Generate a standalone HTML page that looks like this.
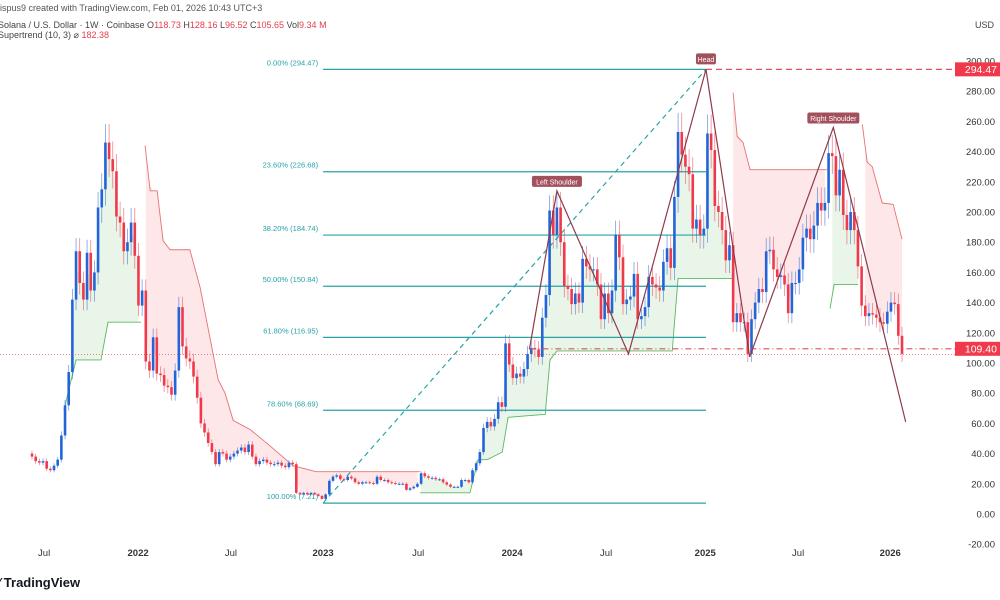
<!DOCTYPE html>
<html><head><meta charset="utf-8"><style>
html,body{margin:0;padding:0;background:#fff;width:1000px;height:600px;overflow:hidden;font-family:"Liberation Sans",sans-serif}
svg{display:block}
</style></head><body>
<svg id="chart" width="1000" height="600" viewBox="0 0 1000 600">
<g font-size="9" fill="#444">
<text x="-3" y="11" fill="#555">rispus9 created with TradingView.com, Feb 01, 2026 10:43 UTC+3</text>
<text x="-2" y="28">Solana / U.S. Dollar · 1W · Coinbase  O<tspan fill="#e0404f">118.73</tspan>  H<tspan fill="#e0404f">128.16</tspan>  L<tspan fill="#e0404f">96.52</tspan>  C<tspan fill="#e0404f">105.65</tspan>  Vol<tspan fill="#e0404f">9.34 M</tspan></text>
<text x="-2" y="38">Supertrend (10, 3)  ⌀  <tspan fill="#e0404f">182.38</tspan></text>
<text x="975" y="28">USD</text>
</g>
<g id="st"></g>
<g id="fib"></g>
<g id="candles"></g>
<g id="pattern"></g>
<g id="yaxis" font-size="9.5" fill="#333"></g>
<g id="xaxis" font-size="9.5" fill="#333"></g>
<g>
<text x="-2" y="587" font-size="13" font-weight="bold" fill="#131722">⁄ TradingView</text>
</g>
</svg>
<script>
const closes = [38,35,34,35,30,29,32,36,52,72,94,142,174,153,142,173,148,160,203,215,246,235,227,197,193,174,180,193,171,138,148,101,95,117,93,92,85,84,79,95,137,111,103,101,91,77,60,54,47,41,33,41,40,36,38,40,42,44,41,46,38,33,35,36,34,33,33,34,32,31,34,33,14,13,14,13,14,13,12,10,13,22,
24.7,25.6,23,22.5,24.7,23.5,21,20,21,21,20.5,20,24.7,22.5,22.5,21,20.5,20,20,20,16,17,18,20,27,25,24,24,23,23,21,19.5,18,18,18,22.5,22.5,21,29,33.6,41,57,61,58,63,74,71,113,99,90,93,91,96,106,110,109,104,130,145,201,185,203,180,151,149,139,146,140,169,164,162,162,152,129,146,133,148,185,170,139,142,144,159,129,131,137,157,152,150,148,167,176,163,210,253,238,230,225,189,195,185,189,
252,241,204,200,188,168,178,127,133,127,127,106,129,140,149,147,174,175,162,157,158,152,133,153,153,162,183,189,182,191,206,201,206,239,237,211,228,198,188,200,188,164,138,131,133,132,130,127,126,134,140,139,118,106];
const firstOpen = 40;
const stGreen1 = [[8.7,69],[12,102],[18.8,102],[20.7,127],[29.7,127]];
const stRed1 = [[30.8,244],[32.2,214],[34.1,214],[35.7,181],[37.6,175],[43,175],[45.8,150],[50.7,89],[52.6,80],[54.8,62],[59.4,56],[64.9,45],[71.1,32],[77.4,28],[105.7,28]];
const stGreen2 = [[105.7,14],[119.3,14],[121.5,36],[124,36],[128.1,41],[129.7,64],[139.8,66],[141.1,102],[143,108],[174.4,108],[176,156],[191,156]];
const stRed2 = [[191,279],[192.1,250],[193.7,246],[195.6,228],[216.6,228]];
const stGreen3 = [[217.4,136],[218.5,152],[225,152]];
const stRed3 = [[226.2,258],[227.5,233],[228.9,230],[231.6,206],[234.6,205],[237,182]];
const fibLevels = [0,23.6,38.2,50,61.8,78.6,100];
const fibPrices = [294.47,226.68,184.74,150.84,116.95,68.69,7.21];
const fibLabels = ["0.00% (294.47)","23.60% (226.68)","38.20% (184.74)","50.00% (150.84)","61.80% (116.95)","78.60% (68.69)","100.00% (7.21)"];
const patternPts = [[135.5,109],[143,214],[162.5,106],[183.6,294.47],[195.5,104],[218.3,256],[238,61]];
const yTicks = [300,280,260,240,220,200,180,160,140,120,100,80,60,40,20,0,-20];
const xTickLabels = ["Jul","2022","Jul","2023","Jul","2024","Jul","2025","Jul","2026"];
const xTickIdx = [3.3,28.9,54.2,79.3,105.2,130.8,156.4,183.4,208.7,233.8];

const NS="http://www.w3.org/2000/svg";
const N=closes.length;
const y=v=>514-1.51*v;
const x=i=>32+i*(870/237);
function mk(tag,attrs,parent){const e=document.createElementNS(NS,tag);for(const k in attrs)e.setAttribute(k,attrs[k]);parent.appendChild(e);return e;}
const BLUE="#2364d8",RED="#f03a4b";

// supertrend
const stG=document.getElementById('st');
function stVal(pts,i){for(let k=0;k<pts.length-1;k++){const a=pts[k],b=pts[k+1];if(i>=a[0]&&i<=b[0])return a[1]+(b[1]-a[1])*(i-a[0])/(b[0]-a[0]);}return null;}
function drawST(pts,up,name){
  const i0=Math.ceil(pts[0][0]),i1=Math.floor(pts[pts.length-1][0]);
  let top=[],bot=[];
  for(let i=i0;i<=i1;i++){const v=stVal(pts,i);if(v===null)continue;const o=i>0?closes[i-1]:firstOpen;const m=(o+closes[i])/2;top.push(x(i)+','+y(v));bot.unshift(x(i)+','+y(m));}
  const f=mk('polygon',{points:top.concat(bot).join(' '),fill:up?'rgba(76,175,80,0.13)':'rgba(242,54,69,0.12)',stroke:'none'},stG);
  
  
  const l=mk('polyline',{points:pts.map(p=>x(p[0])+','+y(p[1])).join(' '),fill:'none',stroke:up?'#5cb85f':'#e57373','stroke-width':0.9},stG);
  
  
}
drawST(stGreen1,true,'supertrend-up-1');drawST(stRed1,false,'supertrend-down-1');
drawST(stGreen2,true,'supertrend-up-2');drawST(stRed2,false,'supertrend-down-2');
drawST(stGreen3,true,'supertrend-up-3');drawST(stRed3,false,'supertrend-down-3');

// fib
const fg=document.getElementById('fib');
const fx0=x(79.3),fx1=x(183.6);
fibPrices.forEach((p,k)=>{
  const l=mk('line',{x1:fx0,x2:fx1,y1:y(p),y2:y(p),stroke:'#26a3a6','stroke-width':1.2},fg);
  
  
  const t=mk('text',{x:fx0-5,y:y(p)-4,'text-anchor':'end','font-size':7.5,fill:'#26a3a6'},fg);
  t.textContent=fibLabels[k];
  
  
});
const tl=mk('line',{x1:fx0,y1:y(7.21),x2:fx1,y2:y(294.47),stroke:'#26a3a6','stroke-width':1.2,'stroke-dasharray':'5,4'},fg);



// candles
const cg=document.getElementById('candles');
for(let i=0;i<N;i++){
  const o=i>0?closes[i-1]:firstOpen,c=closes[i];
  const up=c>=o,col=up?BLUE:RED;
  const hi=Math.max(o,c)*1.05,lo=Math.min(o,c)*0.95;
  const g=mk('g',{},cg);
  
  
  mk('line',{x1:x(i),x2:x(i),y1:y(hi),y2:y(lo),stroke:col,'stroke-width':0.7,opacity:0.7},g);
  const t=Math.min(y(o),y(c)),h=Math.max(1,Math.abs(y(o)-y(c)));
  mk('rect',{x:x(i)-1.3,y:t,width:2.6,height:h,fill:col},g);
}

// pattern + price lines
const pg=document.getElementById('pattern');
const cur=mk('line',{x1:0,x2:955,y1:y(105.65),y2:y(105.65),stroke:'#f03a4b','stroke-width':0.6,'stroke-dasharray':'1,2'},pg);


const neck=mk('line',{x1:x(135.5),x2:955,y1:y(109.4),y2:y(109.4),stroke:'#e0505e','stroke-width':1.2,'stroke-dasharray':'6,3,1,3'},pg);


const hl=mk('line',{x1:x(183.6),x2:955,y1:y(294.47),y2:y(294.47),stroke:'#e0505e','stroke-width':1.2,'stroke-dasharray':'6,4'},pg);


const pl=mk('polyline',{points:patternPts.map(p=>x(p[0])+','+y(p[1])).join(' '),fill:'none',stroke:'#8e3a4a','stroke-width':1.2},pg);


function tag(txt,cx,cy,w,name){
  const g=mk('g',{},pg);
  
  
  mk('rect',{x:cx-w/2,y:cy-6,width:w,height:11,rx:2,fill:'#a3505e'},g);
  const t=mk('text',{x:cx,y:cy+2.5,'text-anchor':'middle','font-size':7,fill:'#fff'},g);t.textContent=txt;
}
tag('Head',x(183.6),y(294.47)-10,20,'head-label');
tag('Left Shoulder',x(143),y(214)-9,50,'left-shoulder-label');
tag('Right Shoulder',x(218.3),y(256)-9,52,'right-shoulder-label');

// y axis
const yg=document.getElementById('yaxis');
yTicks.forEach(v=>{const t=mk('text',{x:995,y:y(v)+3.5,'text-anchor':'end'},yg);t.textContent=v.toFixed(2);

});
function ptag(v,name){const g=mk('g',{},yg);


mk('rect',{x:955,y:y(v)-7,width:45,height:14,fill:'#f03a4b'},g);
const t=mk('text',{x:997,y:y(v)+3.5,'text-anchor':'end',fill:'#fff','font-size':10.5},g);t.textContent=v.toFixed(2);}
ptag(294.47,'head-price-tag');ptag(109.40,'neckline-price-tag');

// x axis
const xg=document.getElementById('xaxis');
xTickLabels.forEach((s,k)=>{const t=mk('text',{x:x(xTickIdx[k]),y:556,'text-anchor':'middle','font-weight':/^\d/.test(s)?'bold':'normal'},xg);t.textContent=s;

});
</script>
</body></html>
